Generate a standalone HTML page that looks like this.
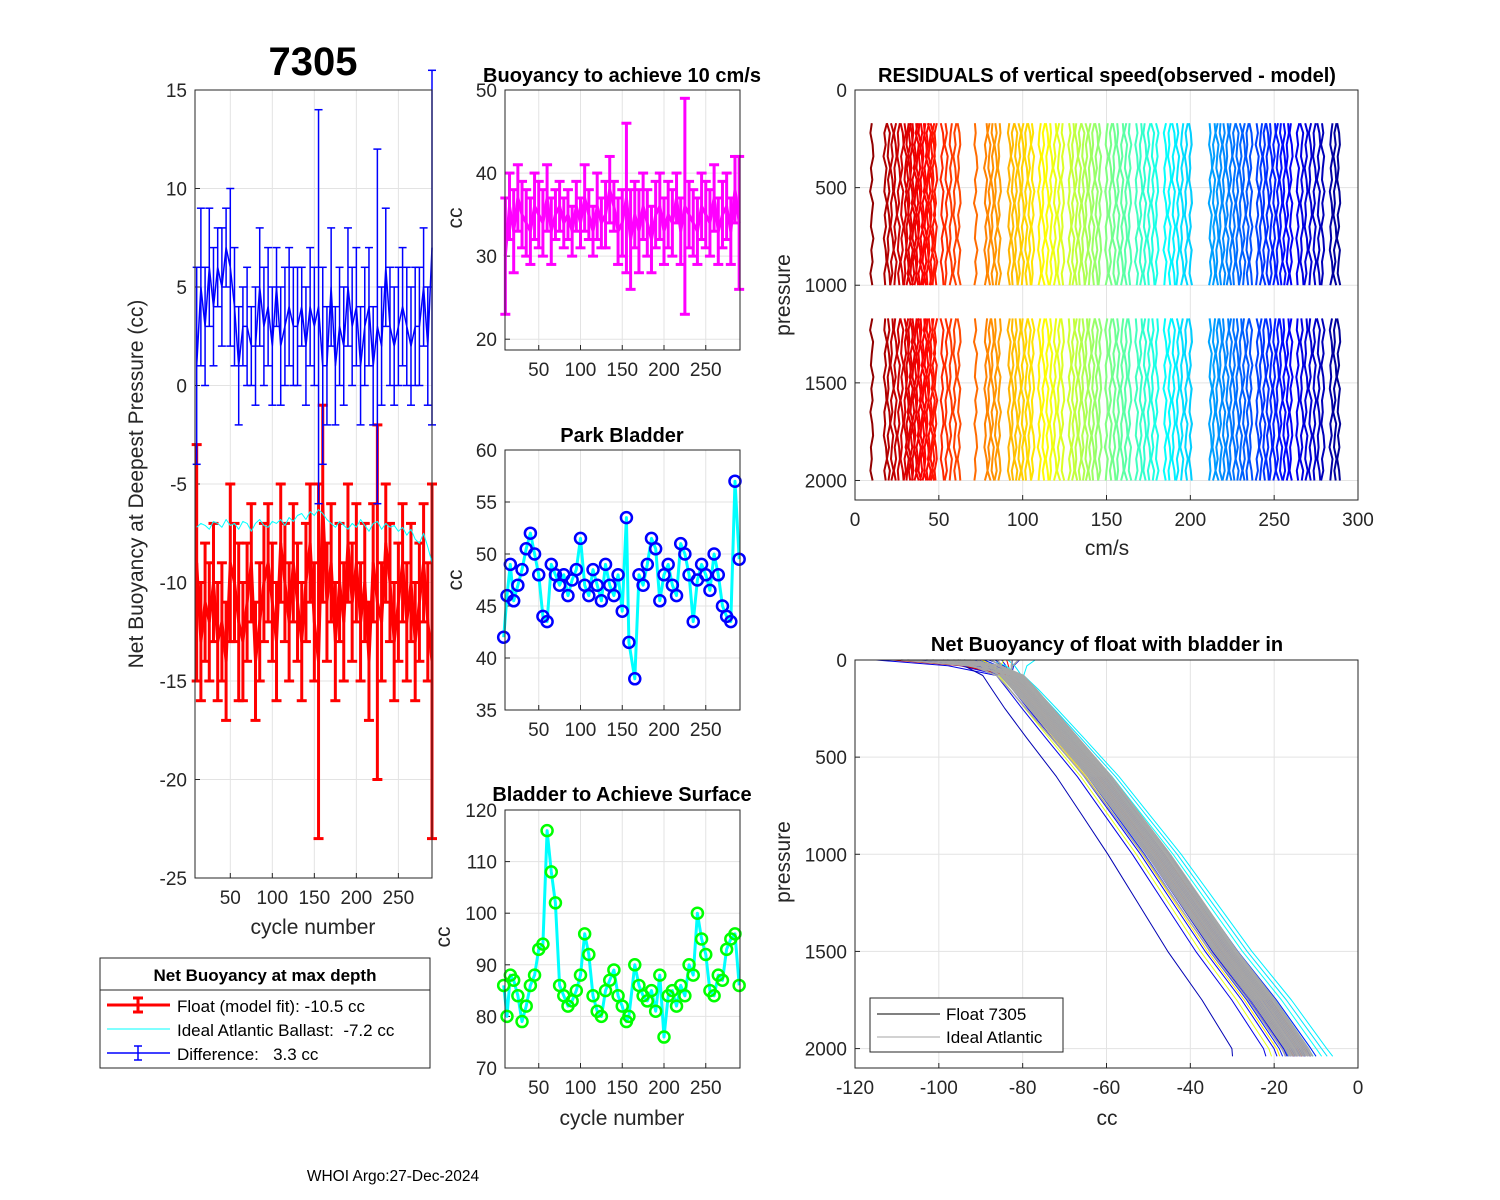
<!DOCTYPE html>
<html><head><meta charset="utf-8">
<style>
body{margin:0;background:#fff;}
svg{display:block;font-family:"Liberation Sans",Arial,sans-serif;}
text{white-space:pre;}
</style></head>
<body>
<svg id="fig" width="1500" height="1200" viewBox="0 0 1500 1200"></svg>
<script>
// ---------- data ----------
const cyc1 = [10,15,20,25,30,35,40,45,50,55,60,65,70,75,80,85,90,95,100,105,110,115,120,125,130,135,140,145,150,155,160,165,170,175,180,185,190,195,200,205,210,215,220,225,230,235,240,245,250,255,260,265,270,275,280,285,290];
const floatVals = [-9,-13,-11,-12,-10,-13,-12,-14,-9,-10,-12,-13,-11,-9,-14,-12,-10,-9,-11,-13,-8,-10,-12,-9,-11,-13,-10,-8,-12,-14,-6,-11,-9,-13,-10,-12,-8,-11,-9,-12,-10,-14,-9,-11,-12,-8,-10,-13,-11,-9,-12,-10,-13,-11,-9,-12,-14];
const floatErr = [6,3,3,3,3,3,3,3,4,3,4,3,3,3,3,3,3,3,3,3,3,3,3,3,3,3,3,3,3,9,5,3,3,3,3,3,3,3,3,3,3,3,3,9,3,3,3,3,3,3,3,3,3,3,3,3,9];
const idealVals = [-7.2,-7,-7.1,-7.3,-6.9,-7,-7.2,-6.8,-7.1,-7,-7.3,-6.9,-7,-7.4,-7,-6.8,-7.1,-7.2,-6.9,-7,-6.8,-7.1,-6.7,-6.9,-6.6,-6.5,-6.8,-6.4,-6.6,-6.3,-6.5,-6.8,-7,-7.2,-6.9,-7.1,-7.3,-7,-7.2,-6.8,-7.1,-7.4,-7,-6.9,-7.3,-7,-7.2,-7.1,-7.4,-7.2,-7.6,-7.3,-7.8,-8,-7.5,-8.2,-9];
const diffVals = [1,5,3,6,4,6,5,7,6,4,1,3,3,2,2,5,3,4,2,5,2,3,4,3,3,4,2,4,3,4,1,1,5,1,3,2,5,3,4,1,3,4,1,3,2,6,3,2,3,4,3,2,3,3,5,2,7];
const diffErr = [5,4,3,3,3,2,3,2,4,3,3,2,3,2,3,3,3,3,3,2,3,3,3,3,3,2,3,3,3,10,5,3,3,3,3,3,3,3,3,3,3,3,3,9,3,3,3,3,3,3,3,3,3,3,3,3,9];

const buoyVals = [30,36,33,37,35,34,33,36,35,34,37,33,35,36,34,35,33,36,34,37,35,33,36,34,35,38,36,33,34,37,32,35,33,36,34,32,35,36,33,35,34,37,33,36,35,34,33,36,35,34,37,33,35,36,33,38,34];
const buoyErr = [7,4,5,4,4,4,4,4,4,4,4,4,3,3,3,3,3,3,3,4,3,3,4,3,4,4,3,4,4,9,6,4,5,4,4,4,4,4,4,4,4,3,4,13,4,4,4,4,4,4,4,4,4,4,4,4,8];

const parkVals = [42,46,49,45.5,47,48.5,50.5,52,50,48,44,43.5,49,48,47,48,46,47.5,48.5,51.5,47,46,48.5,47,45.5,49,47,46,48,44.5,53.5,41.5,38,48,47,49,51.5,50.5,45.5,48,49,47,46,51,50,48,43.5,47.5,49,48,46.5,50,48,45,44,43.5,57,49.5];
const cyc3 = [8,12,16,20,25,30,35,40,45,50,55,60,65,70,75,80,85,90,95,100,105,110,115,120,125,130,135,140,145,150,155,158,165,170,175,180,185,190,195,200,205,210,215,220,225,230,235,240,245,250,255,260,265,270,275,280,285,290];

const surfVals = [86,80,88,87,84,79,82,86,88,93,94,116,108,102,86,84,82,83,85,88,96,92,84,81,80,85,87,89,84,82,79,80,90,86,84,83,85,81,88,76,84,85,82,86,84,90,88,100,95,92,85,84,88,87,93,95,96,86];

// residual panel: groups of cycles [start,end,step]
const residGroups = [[10,10,1],[18,28,2],[30,48,1.2],[52,62,2.5],[72,72,1],[78,86,2],[92,106,2],[110,124,2.3],[128,146,2],[150,164,2.3],[168,180,2.4],[185,200,2.5],[212,236,2],[240,260,2],[264,280,2.5],[284,290,2.2]];
const residPattern = [0,-0.8,0.5,1,-0.5,0.3,-1,0.8,0,-0.5,1,-0.3,0.5,-0.8,0.3,0.8,-0.5];
const residPressA = [170,220,280,340,400,460,520,580,640,700,760,820,880,940,1000];
const residPressB = [1170,1230,1290,1350,1410,1470,1530,1590,1650,1710,1770,1830,1890,1950,2000];

// profile panel
const profPress = [0,30,80,150,250,400,600,800,1000,1250,1500,1750,2000,2040];
const profCC = [-95,-88,-83,-80,-76,-70,-62,-55,-48,-40,-32,-23,-15,-14];
const floatOffsets = [-6,-4,-3,-2.5,-2,-1.5,-1,-0.5,0,0.5,1,1.5,2,-2.2,-1.2,0.2,0.8,1.2,-0.8,-1.8,2.5,3,-3.5,0.4,-0.3,1.8,4,5,-5,-1,0,1,2,3,-12,6];
const floatColorT = [0.1,0.12,0.15,0.1,0.2,0.12,0.1,0.15,0.12,0.1,0.13,0.1,0.15,0.1,0.12,0.14,0.1,0.12,0.11,0.15,0.35,0.4,0.65,0.88,0.92,0.95,0.38,0.35,0.6,0.9,0.1,0.12,0.1,0.15,0.05,0.36];
const idealOffsets = [-4,-3,-2,-1,0,1,2,3,4,-2.5,-1.5,-0.5,0.5,1.5,2.5,3.5];
const surfOffsets = [-17,-12,-8,-5,-2,0,3,6,10,14,-15,-10,-6,-3,1,4,8,12,-14,-9,-4,2,7,11,-16,-7,5,9,13,-11,-1,3,6,-13,0,15];

// ---------- helpers ----------
const svg = document.getElementById('fig');
const NS = 'http://www.w3.org/2000/svg';
function mk(tag, attrs, parent){
  const e = document.createElementNS(NS, tag);
  for (const k in attrs) e.setAttribute(k, attrs[k]);
  (parent||svg).appendChild(e);
  return e;
}
function txt(s, x, y, size, anchor, weight, parent, rot){
  const t = mk('text', {x:x, y:y, 'font-size':size, 'text-anchor':anchor||'middle', 'font-weight':weight||'normal', fill:'#262626'}, parent);
  if (rot) t.setAttribute('transform', 'rotate(-90 '+x+' '+y+')');
  t.textContent = s;
  return t;
}
function jet(t){
  t = Math.max(0, Math.min(1, t));
  const r = Math.max(0, Math.min(1, 1.5 - Math.abs(4*t - 3)));
  const g = Math.max(0, Math.min(1, 1.5 - Math.abs(4*t - 2)));
  const b = Math.max(0, Math.min(1, 1.5 - Math.abs(4*t - 1)));
  return 'rgb('+Math.round(r*255)+','+Math.round(g*255)+','+Math.round(b*255)+')';
}
function axes(name, x0, y0, w, h, xmin, xmax, ymin, ymax, xticks, yticks, rev){
  const g = mk('g', {});
  
  
  const sx = v => x0 + (v - xmin) / (xmax - xmin) * w;
  const sy = rev ? (v => y0 + (v - ymin) / (ymax - ymin) * h) : (v => y0 + h - (v - ymin) / (ymax - ymin) * h);
  mk('rect', {x:x0, y:y0, width:w, height:h, fill:'#fff'}, g);
  xticks.forEach(t => {
    const X = sx(t);
    mk('line', {x1:X, x2:X, y1:y0, y2:y0+h, stroke:'#e3e3e3', 'stroke-width':1}, g);
    mk('line', {x1:X, x2:X, y1:y0+h, y2:y0+h-5, stroke:'#262626', 'stroke-width':1}, g);
    const l = txt(String(t), X, y0+h+26, 19, 'middle', 'normal', g);
    
    
  });
  yticks.forEach(t => {
    const Y = sy(t);
    mk('line', {x1:x0, x2:x0+w, y1:Y, y2:Y, stroke:'#e3e3e3', 'stroke-width':1}, g);
    mk('line', {x1:x0, x2:x0+5, y1:Y, y2:Y, stroke:'#262626', 'stroke-width':1}, g);
    const l = txt(String(t), x0-8, Y+7, 19, 'end', 'normal', g);
    
    
  });
  const plot = mk('g', {}, g);
  mk('rect', {x:x0, y:y0, width:w, height:h, fill:'none', stroke:'#262626', 'stroke-width':1}, g);
  return {sx, sy, g, plot};
}
function errbar(p, X, Y1, Y2, Y, color, sw, cap){
  mk('line', {x1:X, x2:X, y1:Y1, y2:Y2, stroke:color, 'stroke-width':sw}, p);
  mk('line', {x1:X-cap, x2:X+cap, y1:Y1, y2:Y1, stroke:color, 'stroke-width':sw}, p);
  mk('line', {x1:X-cap, x2:X+cap, y1:Y2, y2:Y2, stroke:color, 'stroke-width':sw}, p);
}
function polyline(p, xs, ys, color, sw, name){
  const pts = xs.map((x,i) => x.toFixed(1)+','+ys[i].toFixed(1)).join(' ');
  const e = mk('polyline', {points:pts, fill:'none', stroke:color, 'stroke-width':sw, 'stroke-linejoin':'round'}, p);
  
  
  return e;
}

// ---------- panel 1 ----------
const A1 = axes('net-buoyancy-axes', 195, 90, 237, 788, 8, 290, -25, 15, [50,100,150,200,250], [15,10,5,0,-5,-10,-15,-20,-25], false);
cyc1.forEach((c,i) => {
  const b = mk('g', {}, A1.plot);
  
  
  errbar(b, A1.sx(c), A1.sy(floatVals[i]+floatErr[i]), A1.sy(floatVals[i]-floatErr[i]), 0, '#ff0000', 3, 5);
});
polyline(A1.plot, cyc1.map(A1.sx), floatVals.map(A1.sy), '#ff0000', 3, 'float-line');
polyline(A1.plot, cyc1.map(A1.sx), idealVals.map(A1.sy), '#00ffff', 1, 'ideal-line');
cyc1.forEach((c,i) => {
  const b = mk('g', {}, A1.plot);
  
  
  errbar(b, A1.sx(c), A1.sy(diffVals[i]+diffErr[i]), A1.sy(diffVals[i]-diffErr[i]), 0, '#0000ff', 1.5, 4);
});
polyline(A1.plot, cyc1.map(A1.sx), diffVals.map(A1.sy), '#0000ff', 1.5, 'difference-line');
let t;
t = txt('7305', 313, 75, 40, 'middle', 'bold');   t.setAttribute('fill','#000');
t = txt('Net Buoyancy at Deepest Pressure (cc)', 143, 484, 21, 'middle', 'normal', null, true);  
t = txt('cycle number', 313, 934, 21);  

// ---------- panel 2 ----------
const A2 = axes('buoyancy-axes', 505, 90, 235, 260, 9.6, 291, 18.7, 50, [50,100,150,200,250], [50,40,30,20], false);
cyc1.forEach((c,i) => {
  const b = mk('g', {}, A2.plot);
  
  
  errbar(b, A2.sx(c), A2.sy(buoyVals[i]+buoyErr[i]), A2.sy(buoyVals[i]-buoyErr[i]), 0, '#ff00ff', 3, 5);
});
polyline(A2.plot, cyc1.map(A2.sx), buoyVals.map(A2.sy), '#ff00ff', 3, 'buoyancy-line');
t = txt('Buoyancy to achieve 10 cm/s', 622, 82, 20, 'middle', 'bold');   t.setAttribute('fill','#000');
t = txt('cc', 462, 218, 21, 'middle', 'normal', null, true);  

// ---------- panel 3 ----------
const A3 = axes('park-bladder-axes', 505, 450, 235, 260, 9.6, 291, 35, 60, [50,100,150,200,250], [60,55,50,45,40,35], false);
polyline(A3.plot, cyc3.map(A3.sx), parkVals.map(A3.sy), '#00ffff', 3, 'park-line');
cyc3.forEach((c,i) => {
  const e = mk('circle', {cx:A3.sx(c), cy:A3.sy(parkVals[i]), r:5.5, fill:'none', stroke:'#0000ff', 'stroke-width':2.5}, A3.plot);
  
  
});
t = txt('Park Bladder', 622, 442, 20, 'middle', 'bold');   t.setAttribute('fill','#000');
t = txt('cc', 462, 580, 21, 'middle', 'normal', null, true);  

// ---------- panel 4 ----------
const A4 = axes('surface-bladder-axes', 505, 810, 235, 258, 9.6, 291, 70, 120, [50,100,150,200,250], [120,110,100,90,80,70], false);
polyline(A4.plot, cyc3.map(A4.sx), surfVals.map(A4.sy), '#00ffff', 3, 'surface-line');
cyc3.forEach((c,i) => {
  const e = mk('circle', {cx:A4.sx(c), cy:A4.sy(surfVals[i]), r:5.5, fill:'none', stroke:'#00ff00', 'stroke-width':2.5}, A4.plot);
  
  
});
t = txt('Bladder to Achieve Surface', 622, 801, 20, 'middle', 'bold');   t.setAttribute('fill','#000');
t = txt('cc', 450, 937, 21, 'middle', 'normal', null, true);  
t = txt('cycle number', 622, 1125, 21);  

// ---------- panel 5: residuals ----------
const A5 = axes('residuals-axes', 855, 90, 503, 410, 0, 300, 0, 2100, [0,50,100,150,200,250,300], [0,500,1000,1500,2000], true);
let li = 0;
residGroups.forEach(gr => {
  for (let c = gr[0]; c <= gr[1] + 0.001; c += gr[2]) {
    const col = jet(1 - (c - 5) / 290);
    [residPressA, residPressB].forEach((pr, k) => {
      const xs = pr.map((p,j) => A5.sx(c + residPattern[(j + li*3 + k*5) % residPattern.length]));
      polyline(A5.plot, xs, pr.map(A5.sy), col, 2, 'residual-profile');
    });
    li++;
  }
});
t = txt('RESIDUALS of vertical speed(observed - model)', 1107, 82, 20, 'middle', 'bold');   t.setAttribute('fill','#000');
t = txt('pressure', 790, 295, 21, 'middle', 'normal', null, true);  
t = txt('cm/s', 1107, 555, 21);  

// ---------- panel 6: profiles ----------
const A6 = axes('profile-axes', 855, 660, 503, 408, -120, 0, 0, 2100, [-120,-100,-80,-60,-40,-20,0], [0,500,1000,1500,2000], true);
floatOffsets.forEach((o,i) => {
  const col = jet(floatColorT[i]);
  const xs = profCC.map((v,j) => A6.sx(j < 2 ? v + surfOffsets[i%surfOffsets.length]*(j===0?1:0.4) + o*0.5 : v + o*(0.4 + j/profCC.length)));
  polyline(A6.plot, xs, profPress.map(A6.sy), col, 1, 'float-profile');
});
idealOffsets.forEach((o,i) => {
  const xs = profCC.map((v,j) => A6.sx(j < 2 ? v + surfOffsets[(i+5)%surfOffsets.length]*(j===0?1:0.4) + o : v + o*0.8));
  polyline(A6.plot, xs, profPress.map(A6.sy), '#a6a6a6', 1.5, 'ideal-profile');
});
t = txt('Net Buoyancy of float with bladder in', 1107, 651, 20, 'middle', 'bold');   t.setAttribute('fill','#000');
t = txt('pressure', 790, 862, 21, 'middle', 'normal', null, true);  
t = txt('cc', 1107, 1125, 21);  
// profile legend
const pl = mk('g', {});


mk('rect', {x:870, y:998, width:193, height:54, fill:'#fff', stroke:'#262626', 'stroke-width':1}, pl);
mk('line', {x1:877, x2:940, y1:1014, y2:1014, stroke:'#000', 'stroke-width':1}, pl);
txt('Float 7305', 946, 1020, 17, 'start', 'normal', pl).setAttribute('fill','#000');
mk('line', {x1:877, x2:940, y1:1037, y2:1037, stroke:'#a6a6a6', 'stroke-width':1}, pl);
txt('Ideal Atlantic', 946, 1043, 17, 'start', 'normal', pl).setAttribute('fill','#000');

// ---------- main legend ----------
const lg = mk('g', {});


mk('rect', {x:100, y:958, width:330, height:110, fill:'#fff', stroke:'#262626', 'stroke-width':1}, lg);
txt('Net Buoyancy at max depth', 265, 981, 17, 'middle', 'bold', lg).setAttribute('fill','#000');
mk('line', {x1:100, x2:430, y1:990, y2:990, stroke:'#262626', 'stroke-width':1}, lg);
mk('line', {x1:107, x2:170, y1:1005, y2:1005, stroke:'#ff0000', 'stroke-width':3}, lg);
errbar(lg, 138, 998, 1012, 0, '#ff0000', 3, 5);
txt('Float (model fit): -10.5 cc', 177, 1012, 17, 'start', 'normal', lg).setAttribute('fill','#000');
mk('line', {x1:107, x2:170, y1:1029, y2:1029, stroke:'#00ffff', 'stroke-width':1}, lg);
txt('Ideal Atlantic Ballast:  -7.2 cc', 177, 1036, 17, 'start', 'normal', lg).setAttribute('fill','#000');
mk('line', {x1:107, x2:170, y1:1053, y2:1053, stroke:'#0000ff', 'stroke-width':1.5}, lg);
errbar(lg, 138, 1046, 1060, 0, '#0000ff', 1.5, 4);
txt('Difference:   3.3 cc', 177, 1060, 17, 'start', 'normal', lg).setAttribute('fill','#000');

t = txt('WHOI Argo:27-Dec-2024', 393, 1181, 15.5);   t.setAttribute('fill','#000');
</script>
</body></html>
